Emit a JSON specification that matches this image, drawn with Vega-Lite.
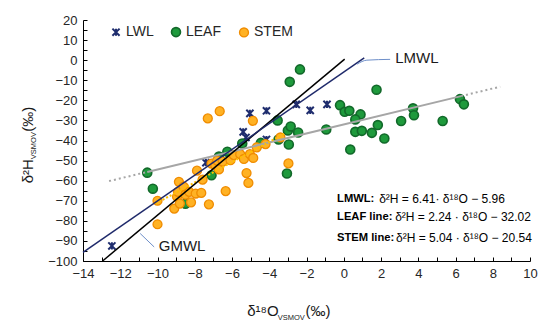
{
  "$schema": "https://vega.github.io/schema/vega-lite/v6.json",
  "width": 447,
  "height": 241,
  "autosize": "none",
  "padding": {"left": 83, "top": 20, "right": 20, "bottom": 72},
  "background": "white",
  "config": {
    "view": {"stroke": null},
    "font": "Liberation Sans",
    "axis": {"grid": false, "domainColor": "#000000", "tickColor": "#000000", "labelColor": "#262626", "labelFont": "Liberation Sans", "labelFontSize": 13, "title": null}
  },
  "datasets": {
    "pts": [
      {"series": "LWL", "d18O": -12.45, "d2H": -92.5},
      {"series": "LWL", "d18O": -7.4, "d2H": -51},
      {"series": "LWL", "d18O": -5.4, "d2H": -35.7},
      {"series": "LWL", "d18O": -5.25, "d2H": -38.5},
      {"series": "LWL", "d18O": -5.04, "d2H": -26.5},
      {"series": "LWL", "d18O": -4.15, "d2H": -25.2},
      {"series": "LWL", "d18O": -4.15, "d2H": -39.5},
      {"series": "LWL", "d18O": -2.55, "d2H": -22},
      {"series": "LWL", "d18O": -1.8, "d2H": -25},
      {"series": "LWL", "d18O": -0.9, "d2H": -22},
      {"series": "LEAF", "d18O": -10.55, "d2H": -56},
      {"series": "LEAF", "d18O": -10.25, "d2H": -64},
      {"series": "LEAF", "d18O": -8.5, "d2H": -71.5},
      {"series": "LEAF", "d18O": -7.1, "d2H": -57.3},
      {"series": "LEAF", "d18O": -6.7, "d2H": -48},
      {"series": "LEAF", "d18O": -6.25, "d2H": -45.6},
      {"series": "LEAF", "d18O": -5.45, "d2H": -41.5},
      {"series": "LEAF", "d18O": -4.45, "d2H": -41.2},
      {"series": "LEAF", "d18O": -3.5, "d2H": -39.5},
      {"series": "LEAF", "d18O": -3.55, "d2H": -30},
      {"series": "LEAF", "d18O": -3.0, "d2H": -35},
      {"series": "LEAF", "d18O": -2.85, "d2H": -33},
      {"series": "LEAF", "d18O": -2.45, "d2H": -36},
      {"series": "LEAF", "d18O": -2.95, "d2H": -42},
      {"series": "LEAF", "d18O": -3.05, "d2H": -56.4},
      {"series": "LEAF", "d18O": -2.9, "d2H": -10.8},
      {"series": "LEAF", "d18O": -2.35, "d2H": -4.6},
      {"series": "LEAF", "d18O": -0.2, "d2H": -22.4},
      {"series": "LEAF", "d18O": 0.05, "d2H": -25.7},
      {"series": "LEAF", "d18O": 0.3, "d2H": -25.2},
      {"series": "LEAF", "d18O": 0.9, "d2H": -27},
      {"series": "LEAF", "d18O": 0.62, "d2H": -29.5},
      {"series": "LEAF", "d18O": -0.94, "d2H": -34.5},
      {"series": "LEAF", "d18O": 0.62, "d2H": -35.7},
      {"series": "LEAF", "d18O": 0.97, "d2H": -35.2},
      {"series": "LEAF", "d18O": 1.51, "d2H": -36.2},
      {"series": "LEAF", "d18O": 1.83, "d2H": -32.3},
      {"series": "LEAF", "d18O": 2.18, "d2H": -39},
      {"series": "LEAF", "d18O": 0.35, "d2H": -44.5},
      {"series": "LEAF", "d18O": 1.76, "d2H": -14.7},
      {"series": "LEAF", "d18O": 3.08, "d2H": -30.3},
      {"series": "LEAF", "d18O": 3.72, "d2H": -24},
      {"series": "LEAF", "d18O": 3.77, "d2H": -27.4},
      {"series": "LEAF", "d18O": 5.31, "d2H": -30.3},
      {"series": "LEAF", "d18O": 6.24, "d2H": -19.4},
      {"series": "LEAF", "d18O": 6.45, "d2H": -22},
      {"series": "STEM", "d18O": -10.0, "d2H": -70},
      {"series": "STEM", "d18O": -10.0, "d2H": -81.7},
      {"series": "STEM", "d18O": -9.1, "d2H": -73.9},
      {"series": "STEM", "d18O": -8.95, "d2H": -68},
      {"series": "STEM", "d18O": -8.85, "d2H": -60.6},
      {"series": "STEM", "d18O": -8.9, "d2H": -65.6},
      {"series": "STEM", "d18O": -8.8, "d2H": -71.4},
      {"series": "STEM", "d18O": -8.6, "d2H": -63},
      {"series": "STEM", "d18O": -8.5, "d2H": -67},
      {"series": "STEM", "d18O": -8.3, "d2H": -65.6},
      {"series": "STEM", "d18O": -8.2, "d2H": -70.8},
      {"series": "STEM", "d18O": -7.95, "d2H": -66.4},
      {"series": "STEM", "d18O": -7.65, "d2H": -66.1},
      {"series": "STEM", "d18O": -7.88, "d2H": -55},
      {"series": "STEM", "d18O": -7.58, "d2H": -59.5},
      {"series": "STEM", "d18O": -7.24, "d2H": -71.8},
      {"series": "STEM", "d18O": -6.34, "d2H": -65.2},
      {"series": "STEM", "d18O": -7.3, "d2H": -29},
      {"series": "STEM", "d18O": -6.66, "d2H": -25.4},
      {"series": "STEM", "d18O": -7.1, "d2H": -51.5},
      {"series": "STEM", "d18O": -6.9, "d2H": -52.3},
      {"series": "STEM", "d18O": -6.7, "d2H": -54.4},
      {"series": "STEM", "d18O": -6.8, "d2H": -50},
      {"series": "STEM", "d18O": -6.5, "d2H": -50.5},
      {"series": "STEM", "d18O": -6.08, "d2H": -49.8},
      {"series": "STEM", "d18O": -5.9, "d2H": -47.3},
      {"series": "STEM", "d18O": -5.56, "d2H": -46.8},
      {"series": "STEM", "d18O": -5.36, "d2H": -49.2},
      {"series": "STEM", "d18O": -5.22, "d2H": -56.2},
      {"series": "STEM", "d18O": -5.12, "d2H": -61.1},
      {"series": "STEM", "d18O": -5.04, "d2H": -46.8},
      {"series": "STEM", "d18O": -4.86, "d2H": -48.7},
      {"series": "STEM", "d18O": -4.67, "d2H": -43.4},
      {"series": "STEM", "d18O": -4.2, "d2H": -41.8},
      {"series": "STEM", "d18O": -4.88, "d2H": -30.2},
      {"series": "STEM", "d18O": -2.97, "d2H": -51.4},
      {"series": "STEM", "d18O": -3.4, "d2H": -38.5}
    ],
    "lines": [
      {"line": "GMWL", "seg": "a", "d18O": -12.95, "d2H": -100},
      {"line": "GMWL", "seg": "a", "d18O": 0.05, "d2H": 0.5},
      {"line": "LMWL", "seg": "a", "d18O": -14, "d2H": -95.7},
      {"line": "LMWL", "seg": "a", "d18O": 1.1, "d2H": 1.09},
      {"line": "LEAF", "seg": "a", "d18O": -10.55, "d2H": -55.65},
      {"line": "LEAF", "seg": "a", "d18O": 6.3, "d2H": -17.9},
      {"line": "LEAFext", "seg": "a", "d18O": -12.6, "d2H": -60.2},
      {"line": "LEAFext", "seg": "a", "d18O": -10.55, "d2H": -55.65},
      {"line": "LEAFext", "seg": "b", "d18O": 6.3, "d2H": -17.9},
      {"line": "LEAFext", "seg": "b", "d18O": 8.4, "d2H": -13.2},
      {"line": "STEM", "seg": "a", "d18O": -10.1, "d2H": -71.44},
      {"line": "STEM", "seg": "a", "d18O": -3.2, "d2H": -36.67},
      {"line": "leader", "seg": "g", "d18O": -10.93, "d2H": -86.3},
      {"line": "leader", "seg": "g", "d18O": -10.18, "d2H": -93},
      {"line": "leader", "seg": "l", "d18O": 0.71, "d2H": -2},
      {"line": "leader", "seg": "l", "d18O": 1.24, "d2H": 0},
      {"line": "leader", "seg": "l", "d18O": 2.49, "d2H": 0.4}
    ],
    "names": [
      {"name": "GMWL", "d18O": -9.93, "d2H": -92.5},
      {"name": "LMWL", "d18O": 2.76, "d2H": 0.9}
    ],
    "eq": [
      {"label": "LMWL:", "rest": "δ²H = 6.41· δ¹⁸O − 5.96", "d18O": -0.36, "xr": 1.9, "d2H": -69.2},
      {"label": "LEAF line:", "rest": "δ²H = 2.24 · δ¹⁸O  − 32.02", "d18O": -0.36, "xr": 2.76, "d2H": -78.2},
      {"label": "STEM line:", "rest": "δ²H = 5.04 · δ¹⁸O − 20.54", "d18O": -0.36, "xr": 2.81, "d2H": -88.3}
    ],
    "xtitle": [
      {"t": "δ¹⁸O", "kind": "main", "d18O": -5.18, "d2H": -127.6},
      {"t": "VSMOV", "kind": "sub", "d18O": -3.55, "d2H": -129.2},
      {"t": "(‰)", "kind": "main", "d18O": -2.05, "d2H": -127.6}
    ],
    "ytitle": [
      {"t": "δ²H", "kind": "main", "d18O": -16.68, "d2H": -61.3},
      {"t": "VSMOV", "kind": "sub", "d18O": -16.5, "d2H": -49.3},
      {"t": "(‰)", "kind": "main", "d18O": -16.68, "d2H": -35.6}
    ]
  },
  "encoding": {
    "x": {"field": "d18O", "type": "quantitative", "scale": {"domain": [-14, 10], "nice": false, "zero": false},
      "axis": {"values": [-14,-13,-12,-11,-10,-9,-8,-7,-6,-5,-4,-3,-2,-1,0,1,2,3,4,5,6,7,8,9,10], "labelExpr": "datum.value % 2 == 0 ? datum.label : ''", "tickSize": -4, "labelPadding": 10, "labelFlush": false}},
    "y": {"field": "d2H", "type": "quantitative", "scale": {"domain": [-100, 20], "nice": false, "zero": false},
      "axis": {"values": [-100,-95,-90,-85,-80,-75,-70,-65,-60,-55,-50,-45,-40,-35,-30,-25,-20,-15,-10,-5,0,5,10,15,20], "labelExpr": "datum.value % 10 == 0 ? datum.label : ''", "tickSize": -4, "labelPadding": 10, "labelFlush": false}}
  },
  "layer": [
    {
      "data": {"name": "pts"},
      "mark": {"type": "point", "filled": true, "opacity": 1, "size": 80},
      "encoding": {
        "fill": {"field": "series", "type": "nominal", "scale": {"domain": ["LWL", "LEAF", "STEM"], "range": ["#1f2d6e", "#1e9a3c", "#ffb224"]}, "legend": {"title": null}},
        "stroke": {"field": "series", "type": "nominal", "scale": {"domain": ["LWL", "LEAF", "STEM"], "range": ["#1f2d6e", "#12692a", "#f08c00"]}, "legend": {"title": null}},
        "strokeWidth": {"field": "series", "type": "nominal", "scale": {"domain": ["LWL", "LEAF", "STEM"], "range": [2, 1.3, 1.3]}, "legend": null},
        "shape": {"field": "series", "type": "nominal", "scale": {"domain": ["LWL", "LEAF", "STEM"], "range": ["M-0.8,-0.8L0.8,0.8M0.8,-0.8L-0.8,0.8M0,-0.8L0,0.8", "circle", "circle"]}, "legend": {"title": null, "orient": "none", "legendX": 26, "legendY": 5, "direction": "horizontal", "columnPadding": 14, "labelFontSize": 14, "labelColor": "#262626", "labelOffset": 3, "symbolSize": 80, "padding": 0}}
      }
    },
    {
      "data": {"name": "lines"},
      "transform": [{"filter": "datum.line == 'LEAF'"}],
      "mark": {"type": "line", "color": "#a6a6a6", "strokeWidth": 2},
      "encoding": {}
    },
    {
      "data": {"name": "lines"},
      "transform": [{"filter": "datum.line == 'LEAFext'"}],
      "mark": {"type": "line", "color": "#a6a6a6", "strokeWidth": 2, "strokeDash": [2, 3]},
      "encoding": {"detail": {"field": "seg"}}
    },
    {
      "data": {"name": "lines"},
      "transform": [{"filter": "datum.line == 'STEM'"}],
      "mark": {"type": "line", "color": "#ffc000", "strokeWidth": 2, "strokeDash": [2, 2]},
      "encoding": {}
    },
    {
      "data": {"name": "lines"},
      "transform": [{"filter": "datum.line == 'GMWL'"}],
      "mark": {"type": "line", "color": "#000000", "strokeWidth": 1.5},
      "encoding": {}
    },
    {
      "data": {"name": "lines"},
      "transform": [{"filter": "datum.line == 'LMWL'"}],
      "mark": {"type": "line", "color": "#1f2a6b", "strokeWidth": 1.5},
      "encoding": {}
    },
    {
      "data": {"name": "lines"},
      "transform": [{"filter": "datum.line == 'leader'"}],
      "mark": {"type": "line", "color": "#6e8fc9", "strokeWidth": 1, "interpolate": "monotone"},
      "encoding": {"detail": {"field": "seg"}}
    },
    {
      "data": {"name": "names"},
      "mark": {"type": "text", "align": "left", "baseline": "middle", "fontSize": 15, "color": "#1a1a1a"},
      "encoding": {"text": {"field": "name"}}
    },
    {
      "data": {"name": "eq"},
      "mark": {"type": "text", "align": "left", "baseline": "middle", "fontSize": 11.2, "fontWeight": "bold", "color": "#000000"},
      "encoding": {"text": {"field": "label"}}
    },
    {
      "data": {"name": "eq"},
      "mark": {"type": "text", "align": "left", "baseline": "middle", "fontSize": 12, "color": "#000000"},
      "encoding": {"x": {"field": "xr", "type": "quantitative"}, "text": {"field": "rest"}}
    },
    {
      "data": {"name": "xtitle"},
      "mark": {"type": "text", "align": "left", "baseline": "alphabetic", "color": "#1a1a1a"},
      "encoding": {"text": {"field": "t"}, "size": {"field": "kind", "type": "nominal", "scale": {"domain": ["main", "sub"], "range": [15, 7.5]}, "legend": null}}
    },
    {
      "data": {"name": "ytitle"},
      "mark": {"type": "text", "align": "left", "baseline": "alphabetic", "angle": 270, "color": "#1a1a1a"},
      "encoding": {"text": {"field": "t"}, "size": {"field": "kind", "type": "nominal", "scale": {"domain": ["main", "sub"], "range": [15, 7.5]}, "legend": null}}
    }
  ]
}
